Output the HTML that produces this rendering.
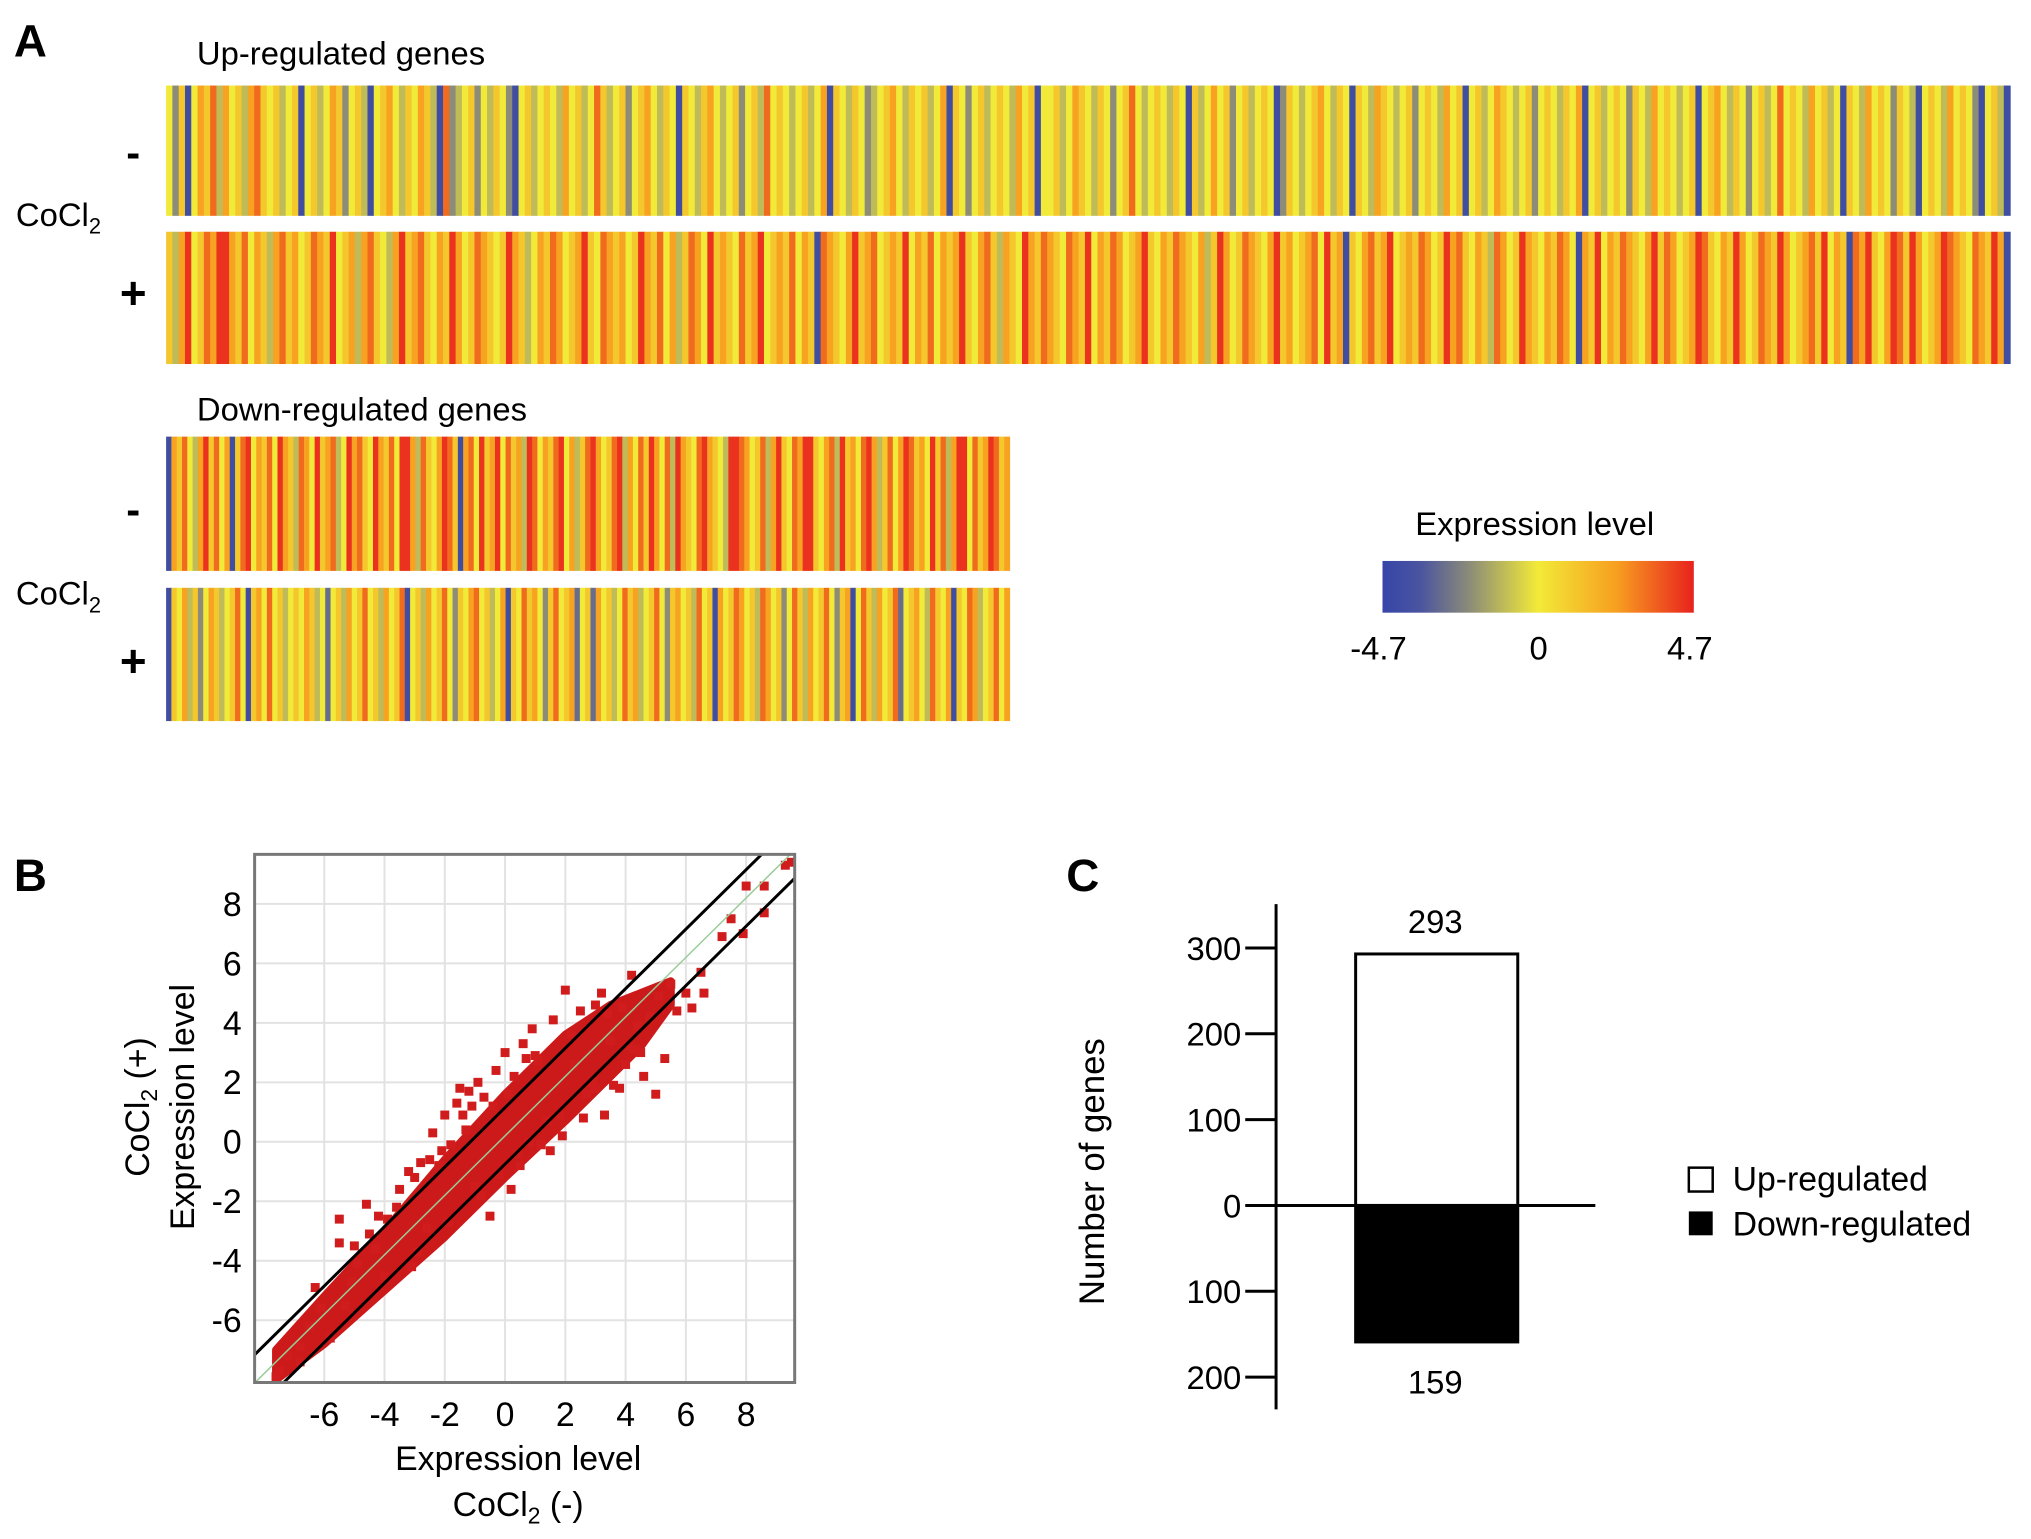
<!DOCTYPE html>
<html><head><meta charset="utf-8"><style>
body{margin:0;background:#fff}
svg{display:block;font-family:"Liberation Sans",sans-serif}
</style></head><body>
<svg id="fig" width="2031" height="1539" viewBox="0 0 2031 1539">
<g transform="scale(0.9946)">
<g id="A">
<text x="14" y="57" font-size="46" font-weight="bold">A</text>
<text x="198" y="65" font-size="33">Up-regulated genes</text>
<text x="198" y="423" font-size="33">Down-regulated genes</text>
<text x="134" y="168" font-size="42" font-weight="bold" text-anchor="middle">-</text>
<text x="134" y="310" font-size="46" font-weight="bold" text-anchor="middle">+</text>
<text x="134" y="527" font-size="42" font-weight="bold" text-anchor="middle">-</text>
<text x="134" y="680" font-size="46" font-weight="bold" text-anchor="middle">+</text>
<text x="16" y="227" font-size="33">CoCl<tspan font-size="22" dy="8">2</tspan></text>
<text x="16" y="608" font-size="33">CoCl<tspan font-size="22" dy="8">2</tspan></text>
<g id="heat"></g>
<text x="1543" y="538" font-size="33" text-anchor="middle">Expression level</text>
<defs><linearGradient id="cg" x1="0" x2="1">
<stop offset="0" stop-color="#3646a8"/><stop offset="0.12" stop-color="#4a54a0"/><stop offset="0.28" stop-color="#8c8c78"/><stop offset="0.5" stop-color="#f2ea38"/><stop offset="0.75" stop-color="#f7a020"/><stop offset="1" stop-color="#e8221e"/></linearGradient></defs>
<rect x="1390" y="564" width="313" height="52" fill="url(#cg)"/>
<text x="1386" y="663" font-size="33" text-anchor="middle">-4.7</text>
<text x="1547" y="663" font-size="33" text-anchor="middle">0</text>
<text x="1699" y="663" font-size="33" text-anchor="middle">4.7</text>
</g>
<g id="B">
<text x="14" y="896" font-size="46" font-weight="bold">B</text>
<g id="scat"></g>
<text x="521" y="1478" font-size="34" text-anchor="middle">Expression level</text>
<text x="521" y="1524" font-size="34" text-anchor="middle">CoCl<tspan font-size="23" dy="8">2</tspan><tspan dy="-8"> (-)</tspan></text>
<text transform="translate(150,1113) rotate(-90)" font-size="34" text-anchor="middle">CoCl<tspan font-size="23" dy="8">2</tspan><tspan dy="-8"> (+)</tspan></text>
<text transform="translate(195,1113) rotate(-90)" font-size="34" text-anchor="middle">Expression level</text>
</g>
<g id="C">
<text x="1072" y="896" font-size="46" font-weight="bold">C</text>
<g id="bars"></g>
<text transform="translate(1110,1178) rotate(-90)" font-size="35" text-anchor="middle">Number of genes</text>
<rect x="1698" y="1174" width="24" height="24" fill="#fff" stroke="#000" stroke-width="2.5"/>
<text x="1742" y="1197" font-size="34">Up-regulated</text>
<rect x="1698" y="1218" width="24" height="24" fill="#000"/>
<text x="1742" y="1242" font-size="34">Down-regulated</text>
</g>
</g>
</svg>
<script>
const upMinus=[0,-2,1,-4,0,2,1,3,-1,2,0,1,-1,2,3,1,0,1,-1,0,1,-4,0,1,-1,0,2,1,-2,0,1,-1,-4,0,1,2,0,-1,1,0,2,1,-1,-4,3,-2,-1,0,1,-2,0,-1,1,0,-2,-4,0,1,-1,0,1,0,-1,2,0,1,-1,0,3,1,-1,0,1,-2,0,1,2,0,-1,1,0,-4,1,0,-1,1,2,0,-1,0,1,-2,0,1,-1,3,0,1,0,-1,0,1,-1,0,2,-4,1,0,-1,1,0,-2,-1,0,1,2,0,-1,1,0,1,-1,0,2,-4,1,0,-2,0,1,-1,0,1,0,-1,2,0,1,-4,0,0,1,-1,0,2,1,0,-1,1,0,-2,0,1,3,0,-1,0,1,0,-1,1,0,-4,1,-1,0,2,0,1,-2,0,1,-1,0,1,0,-4,-2,1,0,-1,0,1,2,0,-1,1,0,-4,1,0,-1,2,1,0,-1,0,1,-2,0,1,0,-1,2,0,1,-4,0,1,-1,0,2,1,0,-1,0,1,-2,0,1,0,-1,1,0,2,-4,0,1,-1,0,1,0,-2,1,0,-1,2,0,1,0,-1,0,1,-4,0,1,2,0,-1,1,0,-2,0,1,-1,0,3,0,1,0,-1,2,0,1,-1,0,-4,1,0,-1,2,0,1,0,-2,1,0,-1,-4,0,1,0,-1,2,0,1,0,-2,-4,0,1,-1,-4];
const upPlus=[1,-1,2,4,0,1,3,2,4,4,2,1,3,0,2,1,-1,2,3,1,2,0,1,3,2,1,4,0,1,2,-1,2,3,1,0,-1,2,4,1,2,3,1,0,2,1,4,2,0,1,3,2,1,0,1,4,2,1,-1,0,2,1,3,2,0,1,2,4,1,0,3,2,1,2,0,1,4,2,1,3,0,2,-1,1,3,2,0,4,1,2,1,0,3,1,2,4,0,1,2,1,3,0,2,1,-4,3,2,1,0,2,4,1,2,3,0,1,2,1,4,0,2,1,3,0,2,1,2,4,1,0,2,3,1,-1,2,1,0,4,2,1,3,2,1,0,3,2,1,4,0,2,1,3,2,0,1,2,4,1,0,2,1,3,2,1,0,2,-1,1,4,2,0,1,3,2,1,0,2,4,1,2,0,1,2,3,0,4,1,2,-4,1,0,2,3,1,2,4,0,1,2,1,3,2,0,1,4,2,3,1,0,2,1,-1,3,2,0,1,4,2,1,0,2,1,3,2,0,-4,2,1,4,0,2,1,3,2,1,0,2,4,1,3,2,0,1,2,4,3,1,0,2,1,4,2,0,1,3,2,1,4,2,0,1,2,3,1,4,0,2,1,-4,3,2,4,1,0,2,4,3,1,4,2,0,1,2,4,3,2,1,0,3,2,1,4,2,-4];
const downMinus=[-4,2,1,3,0,-1,2,4,1,3,0,2,-4,1,3,4,0,2,1,3,0,4,2,1,-1,3,2,0,4,1,2,3,-1,0,4,2,3,1,0,4,2,1,3,0,4,4,2,-1,3,1,0,2,4,3,1,-4,2,3,0,4,1,2,4,0,3,1,2,-1,4,3,0,2,1,3,4,0,2,-1,1,3,4,2,0,1,3,4,-1,2,0,3,1,4,2,0,3,-1,4,2,1,0,3,4,2,1,0,-1,4,4,3,2,0,1,3,-1,2,4,1,0,3,2,4,4,1,0,2,3,-1,4,1,2,0,3,4,2,-1,1,3,0,2,4,3,1,2,0,4,1,3,-1,2,4,4,0,3,1,2,4,3,1,2];
const downPlus=[-4,1,0,2,-1,1,-2,0,2,1,-1,0,1,3,0,-4,1,2,0,3,0,1,-1,0,1,0,2,1,-1,0,-3,0,1,-1,2,0,1,3,0,1,-1,2,0,1,3,-4,0,1,-1,2,0,1,3,0,-2,1,0,2,3,0,1,-1,0,2,-4,1,0,3,1,2,0,-2,1,3,0,1,2,-3,0,1,-3,2,0,1,-1,0,3,1,2,-1,0,1,3,0,-2,1,2,0,1,-1,3,0,1,-4,2,0,1,3,2,0,1,-1,3,2,0,1,-2,0,3,1,-1,2,0,1,3,0,-2,1,2,-4,0,3,1,-1,2,0,1,3,-3,0,1,2,0,-1,3,1,0,2,-4,1,0,3,2,-1,0,1,3,0,2];

const ptX=[-7.5,-7.2,-6.8,-6.5,-6.3,-5.8,-6.1,-5.5,-5.5,-5.1,-4.9,-4.6,-4.3,-3.9,-3.5,-3.2,-3.1,-2.8,-2.6,-2.4,-2.1,-1.9,-1.6,-1.4,-1.2,-0.9,-0.8,-0.5,-0.3,0.0,0.2,0.4,0.6,0.9,1.2,1.4,1.6,1.8,2.0,2.3,2.5,2.7,3.0,3.2,3.3,3.5,3.8,3.9,4.0,4.2,4.4,4.6,4.8,5.0,5.1,5.3,5.5,5.7,6.0,6.2,6.5,6.6,7.2,7.5,7.9,8.0,8.6,8.6,9.3,9.5,-6.8,-7.6,-5.3,-4.0,-2.9,-1.0,0.5,1.9,3.0,4.3,-4.5,-3.6,-2.2,-1.3,0.1,1.1,2.2,3.4,-0.4,0.8,-2.0,-1.5,-0.7,0.3,1.0,-1.8,-0.2,1.5,2.6,3.6,4.5,-3.0,-2.5,-1.1,0.7,2.9,4.1,-5.0,-4.2];
const ptY=[-7.7,-7.2,-6.9,-6.2,-4.9,-6.6,-5.6,-3.4,-2.6,-4.7,-4.1,-2.1,-3.6,-2.6,-1.6,-1.0,-4.2,-0.7,-2.9,0.3,-0.3,-2.7,1.3,0.9,1.7,2.0,-1.8,-2.5,2.4,3.0,-1.6,-0.4,3.3,3.8,-0.1,0.7,4.1,0.9,5.1,2.6,4.4,1.6,4.6,5.0,0.9,3.4,1.8,4.5,2.6,5.6,3.9,2.2,4.2,1.6,4.9,2.8,5.3,4.4,5.0,4.5,5.7,5.0,6.9,7.5,7.0,8.6,8.6,7.7,9.3,9.4,-7.4,-7.9,-5.5,-4.5,-3.7,-1.5,-0.8,0.2,1.8,3.1,-3.1,-2.2,-0.8,0.4,1.6,2.7,3.6,4.3,1.2,0.0,0.9,1.8,1.5,2.2,2.9,-0.1,-1.1,-0.3,0.8,1.9,3.0,-1.2,-0.6,1.2,2.8,2.0,3.2,-3.5,-2.5];
const bandX=[-7.6,-6,-4,-2,0,2,3.5,4.5,5.5];
const bandLo=[-8,-6.8,-5.0,-3.2,-1.2,0.7,2.2,3.2,4.6];
const bandHi=[-7.0,-5.2,-3.0,-0.6,1.6,3.6,4.6,5.0,5.4];
const scatTicks=[-6,-4,-2,0,2,4,6,8];
const foldOffsets=[1.15,-0.75];

const barCats=['Up-regulated','Down-regulated'];
const barVals=[293,-159];
const barLabels=['293','159'];
const barTicks=[300,200,100,0,-100,-200];
const barTickLabels=['300','200','100','0','100','200'];

const NS='http://www.w3.org/2000/svg';
function mk(t,a,p){const e=document.createElementNS(NS,t);for(const k in a)e.setAttribute(k,a[k]);p.appendChild(e);return e;}
const stops=[[-4.7,[54,70,168]],[-2.2,[140,140,120]],[0,[242,234,56]],[2.3,[247,160,32]],[4.7,[232,34,30]]];
function col(v){v=Math.max(-4.7,Math.min(4.7,v));for(let i=0;i<stops.length-1;i++){const a=stops[i],b=stops[i+1];if(v<=b[0]){const t=(v-a[0])/(b[0]-a[0]);return 'rgb('+a[1].map((c,j)=>Math.round(c+(b[1][j]-c)*t)).join(',')+')';}}return 'rgb(232,34,30)';}

const heat=document.getElementById('heat');
function strip(vals,x0,x1,y0,y1,name){
  const g=mk('g',{},heat);
  
  
  const w=(x1-x0)/vals.length;
  vals.forEach((v,i)=>{
    const r=mk('rect',{x:(x0+i*w).toFixed(2),y:y0,width:(w+0.6).toFixed(2),height:y1-y0,fill:col(v*1.1)},g);
    
    
  });
}
strip(upMinus,167,2021,86,217,'up-minus-row');
strip(upPlus,167,2021,233,366,'up-plus-row');
strip(downMinus,167,1015,439,574,'down-minus-row');
strip(downPlus,167,1015,591,725,'down-plus-row');

const sc=document.getElementById('scat');
const L=256,R=799,T=859,B=1390;
const xs=v=>507.8+v*30.3, ys=v=>1148-v*29.9;
mk('rect',{x:L,y:T,width:R-L,height:B-T,fill:'#fff'},sc);
const clip=mk('clipPath',{id:'pc'},sc);mk('rect',{x:L,y:T,width:R-L,height:B-T},clip);
scatTicks.forEach(t=>{
  const gx=mk('line',{x1:xs(t),x2:xs(t),y1:T,y2:B,stroke:'#e2e2e2','stroke-width':2},sc);
  
  
  const gy=mk('line',{x1:L,x2:R,y1:ys(t),y2:ys(t),stroke:'#e2e2e2','stroke-width':2},sc);
  
  
  const tx=mk('text',{x:xs(t),y:1434,'font-size':34,'text-anchor':'middle'},sc);tx.textContent=t;
  
  
  const ty=mk('text',{x:243,y:ys(t)+12,'font-size':34,'text-anchor':'end'},sc);ty.textContent=t;
  
  
});
const pg=mk('g',{'clip-path':'url(#pc)'},sc);
let pts=bandX.map((x,i)=>xs(x)+','+ys(bandHi[i]));
for(let i=bandX.length-1;i>=0;i--)pts.push(xs(bandX[i])+','+ys(bandLo[i]));
const band=mk('polygon',{points:pts.join(' '),fill:'#cc1a1a','stroke':'#cc1a1a','stroke-width':8,'stroke-linejoin':'round'},pg);


ptX.forEach((x,i)=>{
  const r=mk('rect',{x:xs(x)-4.5,y:ys(ptY[i])-4.5,width:9,height:9,fill:'#d01c1c'},pg);
  
  
});
const gl=mk('line',{x1:xs(-8.3),y1:ys(-8.1),x2:xs(9.6),y2:ys(9.8),stroke:'#9c9','stroke-width':1.5},pg);


foldOffsets.forEach(o=>{
  const l=mk('line',{x1:xs(-9),y1:ys(-9+o),x2:xs(11),y2:ys(11+o),stroke:'#000','stroke-width':3},pg);
  
  
});
const fr=mk('rect',{x:L,y:T,width:R-L,height:B-T,fill:'none',stroke:'#777','stroke-width':3},sc);



const bg=document.getElementById('bars');
const yb=v=>1212-v*0.863;
const ax=mk('line',{x1:1283,x2:1283,y1:909,y2:1417,stroke:'#000','stroke-width':3},bg);


barTicks.forEach((t,i)=>{
  const l=mk('line',{x1:1252,x2:1283,y1:yb(t),y2:yb(t),stroke:'#000','stroke-width':3},bg);
  
  
  const tx=mk('text',{x:1248,y:yb(t)+12,'font-size':33,'text-anchor':'end'},bg);tx.textContent=barTickLabels[i];
  
  
});
barVals.forEach((v,i)=>{
  const y0=yb(Math.max(v,0)),y1=yb(Math.min(v,0));
  const r=mk('rect',{x:1363,y:y0,width:163,height:y1-y0,fill:v>0?'#fff':'#000',stroke:'#000','stroke-width':3},bg);
  
  
  const tx=mk('text',{x:1443,y:v>0?y0-21:y1+52,'font-size':33,'text-anchor':'middle'},bg);tx.textContent=barLabels[i];
  
  
});
const zl=mk('line',{x1:1283,x2:1604,y1:yb(0),y2:yb(0),stroke:'#000','stroke-width':3},bg);


</script>
</body></html>
